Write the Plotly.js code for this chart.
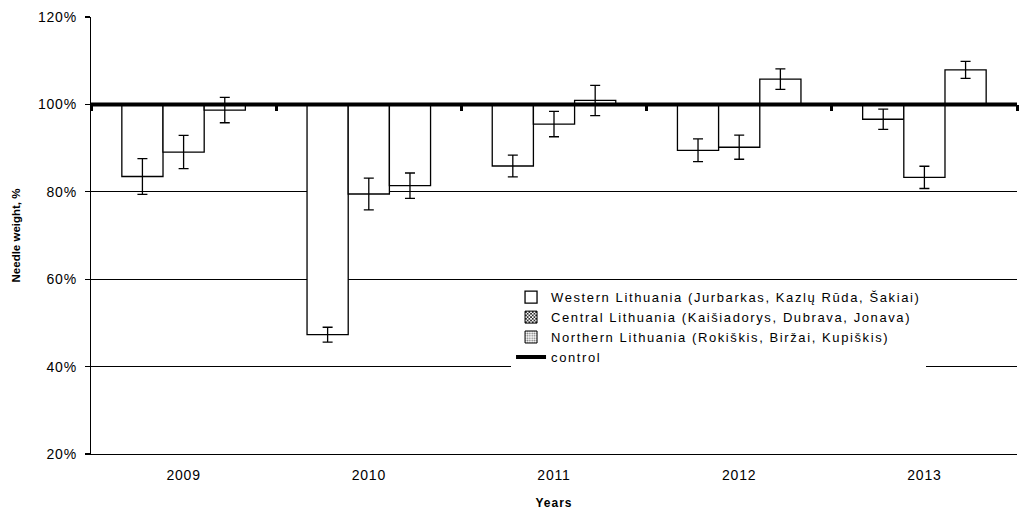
<!DOCTYPE html>
<html>
<head>
<meta charset="utf-8">
<script src="https://cdn.plot.ly/plotly-3.0.1.min.js"></script>
<style>
html,body{margin:0;padding:0;background:#fff;}
#chart{width:1023px;height:511px;}
.legendtext{letter-spacing:1.6px;}
.xtick text,.ytick text{letter-spacing:0.8px;}
.xtitle{letter-spacing:1px;}
</style>
</head>
<body>
<div id="chart"></div>
<script>
// ---- data ----
const years = ['2009', '2010', '2011', '2012', '2013'];
const western = [83.5, 47.3, 85.9, 89.5, 96.6];
const westernErr = [4.1, 1.7, 2.5, 2.6, 2.3];
const central = [89.1, 79.5, 95.5, 90.2, 83.3];
const centralErr = [3.8, 3.65, 2.9, 2.75, 2.55];
const northern = [98.7, 81.4, 100.9, 105.8, 107.9];
const northernErr = [2.9, 2.9, 3.45, 2.35, 1.95];
const controlLevel = 100;
const seriesNames = [
  'Western Lithuania (Jurbarkas, Kazlų Rūda, Šakiai)',
  'Central Lithuania (Kaišiadorys, Dubrava, Jonava)',
  'Northern Lithuania (Rokiškis, Biržai, Kupiškis)',
  'control'
];

const FONT = 'Liberation Sans, Arial, sans-serif';

function barTrace(vals, errs, name, group, showLegend, rank) {
  return {
    type: 'bar', x: years, y: vals.map(v => v - controlLevel), base: controlLevel,
    name: name, offsetgroup: group, showlegend: showLegend, legendrank: rank,
    marker: {color: '#ffffff', line: {color: '#000000', width: 1.3}},
    error_y: {type: 'data', array: errs, visible: true, color: '#000000', thickness: 1.3, width: 5},
    hoverinfo: 'skip'
  };
}
function legendOnly(name, group, pattern, rank) {
  return {
    type: 'bar', x: [years[0]], y: [null], base: controlLevel, name: name, offsetgroup: group,
    legendrank: rank,
    marker: {color: '#ffffff', line: {color: '#000000', width: 1}, pattern: pattern},
    hoverinfo: 'skip'
  };
}

const traces = [
  barTrace(western, westernErr, seriesNames[0], 'a', true, 1),
  barTrace(central, centralErr, seriesNames[1], 'b', false, 2),
  barTrace(northern, northernErr, seriesNames[2], 'c', false, 3),
  legendOnly(seriesNames[1], 'b', {shape: 'x', size: 3, solidity: 0.5, fgcolor: '#000000', bgcolor: '#ffffff'}, 2),
  legendOnly(seriesNames[2], 'c', {shape: '.', size: 3, solidity: 0.4, fgcolor: '#777777', bgcolor: '#ffffff'}, 3),
  {
    type: 'scatter', mode: 'lines', xaxis: 'x2', yaxis: 'y',
    x: [0, years.length], y: [controlLevel, controlLevel], name: seriesNames[3], legendrank: 4,
    line: {color: '#000000', width: 4}, hoverinfo: 'skip'
  }
];

const layout = {
  width: 1023, height: 511,
  margin: {l: 91, r: 6, t: 17, b: 57},
  paper_bgcolor: '#ffffff', plot_bgcolor: '#ffffff',
  font: {family: FONT, color: '#000000', size: 14},
  barmode: 'group', bargap: 0.333, bargroupgap: 0,
  showlegend: true,
  legend: {
    x: 0.4536, y: 0.393, xanchor: 'left', yanchor: 'top',
    bgcolor: '#ffffff', borderwidth: 0, font: {family: FONT, size: 13},
    tracegroupgap: 0, traceorder: 'normal'
  },
  xaxis: {
    type: 'category', showline: true, linecolor: '#000000', linewidth: 1.3,
    ticks: 'outside', ticklen: 8, tickcolor: 'rgba(0,0,0,0)',
    tickfont: {family: FONT, size: 14}, showgrid: false, zeroline: false,
    title: {text: 'Years', font: {family: FONT, size: 12, weight: 'bold'}, standoff: 16},
    automargin: false
  },
  xaxis2: {
    type: 'linear', overlaying: 'x', anchor: 'free', position: 0.8, side: 'bottom',
    range: [0, years.length], dtick: 1, tick0: 0,
    ticks: 'outside', ticklen: 6, tickwidth: 3, tickcolor: '#000000',
    showticklabels: false, showgrid: false, zeroline: false, showline: false
  },
  yaxis: {
    range: [20, 120], dtick: 20, ticksuffix: '%',
    showline: true, linecolor: '#000000', linewidth: 1.3,
    ticks: 'outside', ticklen: 5, tickcolor: '#000000', tickwidth: 1.3,
    ticklabelstandoff: 5,
    showgrid: true, gridcolor: '#000000', gridwidth: 1, zeroline: false,
    tickfont: {family: FONT, size: 14},
    title: {text: 'Needle weight, %', font: {family: FONT, size: 11.5, weight: 'bold'}, standoff: 15},
    automargin: false
  }
};

Plotly.newPlot('chart', traces, layout, {staticPlot: true, displayModeBar: false});
</script>
</body>
</html>
